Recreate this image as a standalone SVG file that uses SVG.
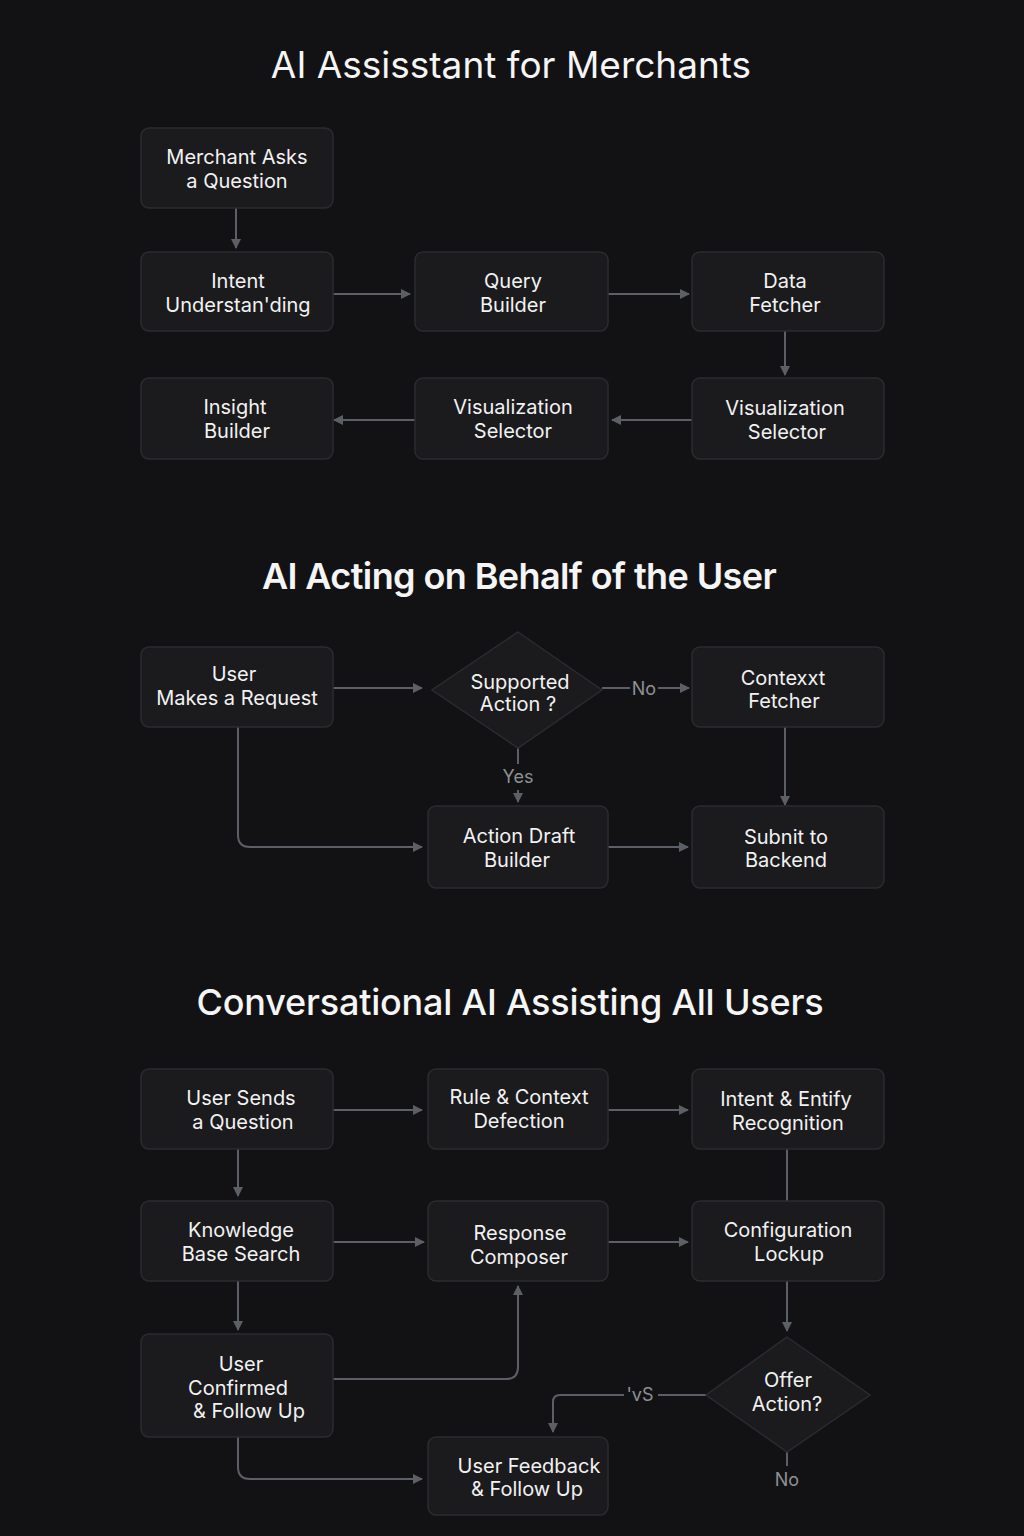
<svg xmlns="http://www.w3.org/2000/svg" width="1024" height="1536" viewBox="0 0 1024 1536">
<defs>
<marker id="ah" viewBox="0 0 10 10" refX="9" refY="5" markerWidth="10" markerHeight="10" markerUnits="userSpaceOnUse" orient="auto"><path d="M0,0 L10,5 L0,10 z" fill="#5c5f66"/></marker>
<style>
.bg{fill:#121214}
.box{fill:#1b1b1e;stroke:#2b2b30;stroke-width:1.5}
.t{font-family:Inter,"Liberation Sans",sans-serif;font-size:20px;fill:#f2f2f2;text-anchor:middle}
.h{font-family:Inter,"Liberation Sans",sans-serif;fill:#f5f5f5;text-anchor:middle}
.c{fill:none;stroke:#5c5f66;stroke-width:2}
.lb{font-family:Inter,"Liberation Sans",sans-serif;font-size:18px;fill:#8e9096;text-anchor:middle}
</style>
</defs>
<rect class="bg" x="0" y="0" width="1024" height="1536"/>
<text class="h" x="511" y="78" font-size="37" font-weight="400">AI Assisstant for Merchants</text>
<text class="h" x="519" y="589" font-size="36" font-weight="600" letter-spacing="-0.6">AI Acting on Behalf of the User</text>
<text class="h" x="510" y="1015" font-size="36" font-weight="500" letter-spacing="-0.2">Conversational AI Assisting All Users</text>

<g id="connectors">
<path class="c" d="M236,208 V248" marker-end="url(#ah)"/>
<path class="c" d="M333,294 H410" marker-end="url(#ah)"/>
<path class="c" d="M608,294 H689" marker-end="url(#ah)"/>
<path class="c" d="M785,331 V375" marker-end="url(#ah)"/>
<path class="c" d="M692,420 H612" marker-end="url(#ah)"/>
<path class="c" d="M415,420 H334" marker-end="url(#ah)"/>

<path class="c" d="M333,688 H422" marker-end="url(#ah)"/>
<path class="c" d="M602,688 H630"/>
<path class="c" d="M658,688 H689" marker-end="url(#ah)"/>
<path class="c" d="M518,748 V764"/>
<path class="c" d="M518,790 V802" marker-end="url(#ah)"/>
<path class="c" d="M238,727 V835 Q238,847 250,847 H422" marker-end="url(#ah)"/>
<path class="c" d="M608,847 H688" marker-end="url(#ah)"/>
<path class="c" d="M785,727 V805" marker-end="url(#ah)"/>

<path class="c" d="M333,1110 H422" marker-end="url(#ah)"/>
<path class="c" d="M608,1110 H688" marker-end="url(#ah)"/>
<path class="c" d="M238,1149 V1196" marker-end="url(#ah)"/>
<path class="c" d="M787,1149 V1201"/>
<path class="c" d="M333,1242 H424" marker-end="url(#ah)"/>
<path class="c" d="M608,1242 H688" marker-end="url(#ah)"/>
<path class="c" d="M238,1281 V1330" marker-end="url(#ah)"/>
<path class="c" d="M333,1379 H506 Q518,1379 518,1367 V1286" marker-end="url(#ah)"/>
<path class="c" d="M787,1281 V1331" marker-end="url(#ah)"/>
<path class="c" d="M706,1395 H658"/>
<path class="c" d="M624,1395 H560 Q553,1395 553,1402 V1432" marker-end="url(#ah)"/>
<path class="c" d="M238,1437 V1467 Q238,1479 250,1479 H422" marker-end="url(#ah)"/>
<path class="c" d="M787,1452 V1466"/>
<text class="lb" x="644" y="695">No</text>
<text class="lb" x="518" y="783">Yes</text>
<text class="lb" x="640" y="1401">'vS</text>
<text class="lb" x="787" y="1486">No</text>
</g>

<g id="n1"><rect class="box" x="141" y="128" width="192" height="80" rx="8"/><text class="t" x="237" y="164">Merchant Asks</text><text class="t" x="237" y="188">a Question</text></g>
<g id="n2"><rect class="box" x="141" y="252" width="192" height="79" rx="8"/><text class="t" x="238" y="288">Intent</text><text class="t" x="238" y="312">Understan'ding</text></g>
<g id="n3"><rect class="box" x="415" y="252" width="193" height="79" rx="8"/><text class="t" x="513" y="288">Query</text><text class="t" x="513" y="312">Builder</text></g>
<g id="n4"><rect class="box" x="692" y="252" width="192" height="79" rx="8"/><text class="t" x="785" y="288">Data</text><text class="t" x="785" y="312">Fetcher</text></g>
<g id="n5"><rect class="box" x="141" y="378" width="192" height="81" rx="8"/><text class="t" x="235" y="414">Insight</text><text class="t" x="237" y="438">Builder</text></g>
<g id="n6"><rect class="box" x="415" y="378" width="193" height="81" rx="8"/><text class="t" x="513" y="414">Visualization</text><text class="t" x="513" y="438">Selector</text></g>
<g id="n7"><rect class="box" x="692" y="378" width="192" height="81" rx="8"/><text class="t" x="785" y="415">Visualization</text><text class="t" x="787" y="439">Selector</text></g>

<g id="m1"><rect class="box" x="141" y="647" width="192" height="80" rx="8"/><text class="t" x="234" y="681">User</text><text class="t" x="237" y="705">Makes a Request</text></g>
<g id="m2"><path class="box" d="M518,632 L602,690 L518,748 L432,690 Z"/><text class="t" x="520" y="689">Supported</text><text class="t" x="518" y="711">Action ?</text></g>
<g id="m3"><rect class="box" x="692" y="647" width="192" height="80" rx="8"/><text class="t" x="783" y="685">Contexxt</text><text class="t" x="784" y="708">Fetcher</text></g>
<g id="m4"><rect class="box" x="428" y="806" width="180" height="82" rx="8"/><text class="t" x="519" y="843">Action Draft</text><text class="t" x="517" y="867">Builder</text></g>
<g id="m5"><rect class="box" x="692" y="806" width="192" height="82" rx="8"/><text class="t" x="786" y="844">Subnit to</text><text class="t" x="786" y="867">Backend</text></g>

<g id="c1"><rect class="box" x="141" y="1069" width="192" height="80" rx="8"/><text class="t" x="241" y="1105">User Sends</text><text class="t" x="243" y="1129">a Question</text></g>
<g id="c2"><rect class="box" x="428" y="1069" width="180" height="80" rx="8"/><text class="t" x="519" y="1104">Rule &amp; Context</text><text class="t" x="519" y="1128">Defection</text></g>
<g id="c3"><rect class="box" x="692" y="1069" width="192" height="80" rx="8"/><text class="t" x="786" y="1106">Intent &amp; Entify</text><text class="t" x="788" y="1130">Recognition</text></g>
<g id="c4"><rect class="box" x="141" y="1201" width="192" height="80" rx="8"/><text class="t" x="241" y="1237">Knowledge</text><text class="t" x="241" y="1261">Base Search</text></g>
<g id="c5"><rect class="box" x="428" y="1201" width="180" height="80" rx="8"/><text class="t" x="520" y="1240">Response</text><text class="t" x="519" y="1264">Composer</text></g>
<g id="c6"><rect class="box" x="692" y="1201" width="192" height="80" rx="8"/><text class="t" x="788" y="1237">Configuration</text><text class="t" x="789" y="1261">Lockup</text></g>
<g id="c7"><rect class="box" x="141" y="1334" width="192" height="103" rx="8"/><text class="t" x="241" y="1371">User</text><text class="t" x="238" y="1395">Confirmed</text><text class="t" x="249" y="1418">&amp; Follow Up</text></g>
<g id="c8"><path class="box" d="M787,1337 L870,1395 L787,1452 L706,1395 Z"/><text class="t" x="788" y="1387">Offer</text><text class="t" x="787" y="1411">Action?</text></g>
<g id="c9"><rect class="box" x="428" y="1437" width="180" height="78" rx="8"/><text class="t" x="529" y="1473">User Feedback</text><text class="t" x="527" y="1496">&amp; Follow Up</text></g>
</svg>
